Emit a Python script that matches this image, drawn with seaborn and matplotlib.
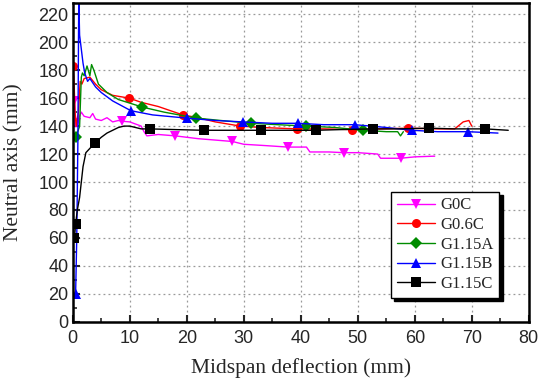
import pandas as pd
import matplotlib.pyplot as plt
import seaborn as sns
from matplotlib.lines import Line2D
from matplotlib.ticker import MultipleLocator

sns.set_style("ticks")
plt.rcParams["font.family"] = ["Liberation Sans", "DejaVu Sans"]

# G0C
g0c_x = [0.2, 0.3, 0.4, 0.6, 0.8, 1.0, 1.5, 2, 3, 3.5, 4, 5, 6, 7, 8, 8.6, 10, 12, 12.5, 13,
         15, 18, 22, 25, 28, 30, 34, 37.7, 41, 41.6, 45, 47.5, 50, 53.5, 54, 57.5, 60, 63.5]
g0c_y = [140, 158, 150, 142, 140, 145, 150, 147, 146, 149, 145, 144, 146, 143, 144, 143.5, 143, 140, 136, 133,
         134, 133, 131, 130, 129, 127, 126, 125, 125, 121.5, 121.5, 121, 121, 120, 117, 117, 118, 118.5]
g0c_mk = [1, 3, 15, 21, 24, 27, 31, 35]

# G0.6C
g06c_x = [0, 0.2, 0.4, 0.6, 0.8, 1.0, 1.3, 1.6, 2, 3, 4, 5, 7, 9.9, 12, 15, 19.3, 22, 25, 29.4,
          33, 39.4, 44, 49, 54, 58.8, 64, 67, 68.5, 69.5, 70]
g06c_y = [183, 175, 150, 140, 145, 150, 172, 170, 174, 175, 170, 166, 162, 160, 157, 154, 148, 146, 143, 140,
          139, 138, 138, 137.5, 138, 138.5, 138, 138, 143, 144, 140]
g06c_mk = [0, 13, 16, 19, 21, 23, 25]

# G1.15A
g115a_x = [0.5, 0.8, 1.2, 1.5, 1.7, 2.0, 2.5, 3.0, 3.3, 3.7, 4.5, 6, 8, 12.2, 16, 21.7, 26, 31.3,
           36, 41, 46, 51, 55, 57, 57.5, 58]
g115a_y = [132, 135, 140, 175, 178, 176, 183, 176, 184, 180, 170, 164, 159, 153.6, 150, 145.7, 144, 142,
           141, 140, 139, 137, 136, 136, 133, 136]
g115a_mk = [0, 13, 15, 17, 19, 21]

# G1.15B
g115b_x = [0.5, 0.7, 0.9, 1.05, 1.2, 1.5, 1.8, 2.1, 2.6, 3, 3.5, 4, 5, 7, 10.2, 14, 20, 25, 29.8,
           35, 39.5, 44, 49.5, 55, 59.5, 64, 69.3, 74.6]
g115b_y = [20, 60, 130, 232, 205, 195, 185, 178, 172, 174, 171, 168, 164, 158, 151, 148, 145.7, 144, 143,
           142, 142, 141, 141, 139, 137, 136, 136, 135]
g115b_mk = [0, 14, 16, 18, 20, 22, 24, 26]

# G1.15C
g115c_x = [0.3, 0.5, 0.8, 1.2, 1.8, 2.3, 3.9, 5, 6, 7, 8, 9, 10, 11, 12, 13.5, 18, 23, 28, 33,
           38, 42.6, 47, 52.6, 57, 62.5, 67, 72.4, 76.4]
g115c_y = [60, 70, 80, 89, 111, 121, 128, 132, 135, 137, 139, 140, 140, 139, 138, 138, 137.5, 137, 137, 137,
           137, 137, 137.5, 138, 138, 138.5, 138, 138, 137]
g115c_mk = [0, 1, 6, 15, 17, 19, 21, 23, 25, 27]

series = [
    ("G0C", g0c_x, g0c_y, g0c_mk, "#FF00FF", "v"),
    ("G0.6C", g06c_x, g06c_y, g06c_mk, "#FF0000", "o"),
    ("G1.15A", g115a_x, g115a_y, g115a_mk, "#008C00", "D"),
    ("G1.15B", g115b_x, g115b_y, g115b_mk, "#0000FF", "^"),
    ("G1.15C", g115c_x, g115c_y, g115c_mk, "#000000", "s"),
]

fig = plt.figure(figsize=(5.39, 3.8), dpi=100)
ax = fig.add_axes([0.135, 0.153, 0.846, 0.839])

handles = []
for name, xs, ys, mk, color, marker in series:
    df = pd.DataFrame({"x": xs, "y": ys})
    ms = 6.5 if marker != "D" else 6
    sns.lineplot(data=df, x="x", y="y", ax=ax, sort=False, estimator=None,
                 color=color, linewidth=1.0, marker=marker, markevery=mk,
                 markersize=ms, markeredgewidth=0, markerfacecolor=color)
    handles.append(Line2D([], [], color=color, linewidth=1.0, marker=marker,
                          markersize=ms, markeredgewidth=0, label=name))

ax.set_xlim(0, 80)
ax.set_ylim(0, 228)
ax.xaxis.set_major_locator(MultipleLocator(10))
ax.xaxis.set_minor_locator(MultipleLocator(5))
ax.yaxis.set_major_locator(MultipleLocator(20))
ax.yaxis.set_minor_locator(MultipleLocator(10))
ax.tick_params(which="major", direction="in", length=5, width=1.5, labelsize=13,
               top=False, right=False, pad=6)
ax.tick_params(which="minor", direction="in", length=3, width=1.2, top=False, right=False)
ax.tick_params(axis="y", which="major", pad=3)
ax.grid(True, which="major", linestyle=(0, (1.5, 2.5)), color="#999999", linewidth=0.9)
for sp in ax.spines.values():
    sp.set_linewidth(1.8)
    sp.set_color("black")

ax.set_xlabel("Midspan deflection (mm)", family="Liberation Serif", fontsize=15.5, labelpad=8)
ax.set_ylabel("Neutral axis (mm)", family="Liberation Serif", fontsize=15.5, labelpad=11)

leg = ax.legend(handles=handles, loc="lower right", bbox_to_anchor=(0.935, 0.075),
                prop={"family": "Liberation Serif", "size": 12}, frameon=True,
                fancybox=False, edgecolor="black", framealpha=1, borderpad=0.35,
                labelspacing=0.22, handlelength=2.3, handletextpad=0.3, borderaxespad=0,
                shadow={"color": "black", "alpha": 1, "ox": 2.5, "oy": -2.5})
leg.get_frame().set_linewidth(1.0)

fig.savefig("out.png", dpi=100)
